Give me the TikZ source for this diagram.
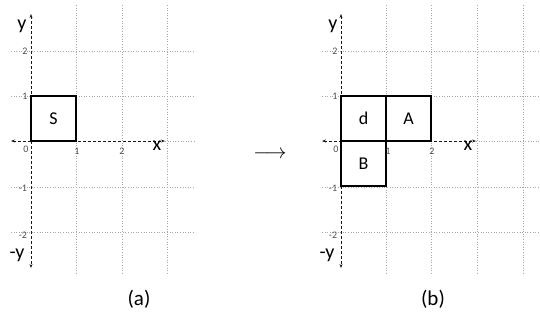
\documentclass[tikz,border=0pt]{standalone}
\usepackage{fontspec}
\setmainfont{Carlito}
\usetikzlibrary{arrows.meta}
\begin{document}
\begin{tikzpicture}[x=1pt,y=-1pt,
  gridline/.style={gray!70,dotted,line width=0.6pt},
  axis/.style={gray!20!black,densely dashed,line width=0.7pt,{Stealth[length=4pt,width=3pt]}-{Stealth[length=4pt,width=3pt]}},
  cell/.style={draw=black,line width=1.4pt,minimum size=45pt,inner sep=0pt,font=\fontsize{18}{18}\selectfont},
  tick/.style={text=gray!60!black,font=\fontsize{10}{10}\selectfont,inner sep=0pt},
  axlabel/.style={font=\fontsize{20}{20}\selectfont,inner sep=0pt},
  caption/.style={font=\fontsize{21}{21}\selectfont,inner sep=0pt}]
\useasboundingbox (0,0) rectangle (540,320);
% ---------- panel (a) ----------
\foreach \x in {76,122,167} \draw[gridline] (\x,5) -- (\x,273);
\foreach \y in {51,96,187,232} \draw[gridline] (11,\y) -- (195,\y);
\draw[gridline] (165,141) -- (195,141);
\coordinate (aL) at (11,141); \coordinate (aR) at (165,141);
\coordinate (aT) at (31,14); \coordinate (aB) at (31,268);
\draw[axis] (aL) -- (aR);
\draw[axis] (aT) -- (aB);
\node[cell] (S) at (53.5,118.5) {S};
\node[axlabel] (ay) at (22,26) {y};
\node[axlabel] (amy) at (17,255) {-y};
\node[axlabel] (ax) at (157,146) {x};
\node[tick] (a2) at (25,51) {2};
\node[tick] (a1) at (25,96) {1};
\node[tick] (a0) at (26,149) {0};
\node[tick] (ax1) at (77,151) {1};
\node[tick] (ax2) at (122,151) {2};
\node[tick] (am1) at (23,188) {-1};
\node[tick] (am2) at (23,235) {-2};
\node[caption] (capa) at (139,299) {(a)};
% ---------- arrow ----------
\node (arr) at (270,155) {\fontsize{20}{20}\selectfont$\longrightarrow$};
% ---------- panel (b) ----------
\foreach \x in {386,431,477,523} \draw[gridline] (\x,5) -- (\x,273);
\foreach \y in {51,96,187,232} \draw[gridline] (322,\y) -- (540,\y);
\draw[gridline] (476,141) -- (540,141);
\coordinate (bL) at (322,141); \coordinate (bR) at (476,141);
\coordinate (bT) at (341,14); \coordinate (bB) at (341,268);
\draw[axis] (bL) -- (bR);
\draw[axis] (bT) -- (bB);
\node[cell] (d) at (363.5,118.5) {d};
\node[cell] (A) at (408.5,118.5) {A};
\node[cell] (B) at (363.5,163.5) {B};
\node[axlabel] (by) at (333,26) {y};
\node[axlabel] (bmy) at (327,255) {-y};
\node[axlabel] (bx) at (468,146) {x};
\node[tick] (b2) at (335,51) {2};
\node[tick] (b1) at (335,96) {1};
\node[tick] (b0) at (336,149) {0};
\node[tick] (bx1) at (388,151) {1};
\node[tick] (bx2) at (432,151) {2};
\node[tick] (bm1) at (333,188) {-1};
\node[tick] (bm2) at (333,235) {-2};
\node[caption] (capb) at (433,299) {(b)};
\end{tikzpicture}
\end{document}
